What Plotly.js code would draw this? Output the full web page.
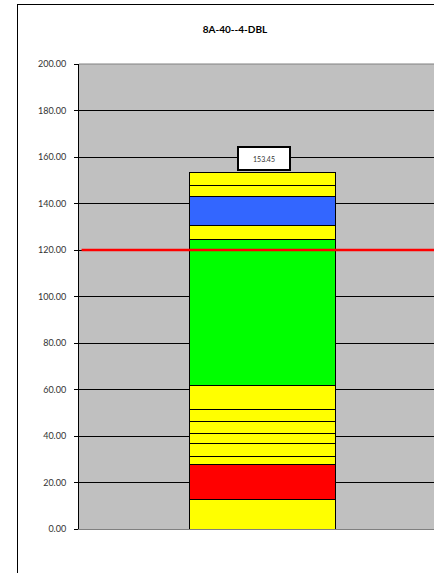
<!DOCTYPE html>
<html>
<head>
<meta charset="utf-8">
<script src="https://cdn.plot.ly/plotly-3.0.1.min.js"></script>
<style>
html,body{margin:0;padding:0;overflow:hidden;background:#fff;}
#frame{position:absolute;left:17px;top:4px;width:600px;height:700px;border-left:1px solid #000;border-top:1px solid #000;}
#chart{position:absolute;left:0;top:0;width:480px;height:573px;}
</style>
</head>
<body>
<div id="frame"></div>
<div id="chart"></div>
<script>
// Data
const category = ["8A-40--4-DBL"];
const segmentValues = [12.9, 14.8, 3.5, 5.4, 4.4, 5.2, 5.0, 10.5, 62.8, 6.0, 12.4, 4.7, 5.85];
const segmentColors = ["#ffff00","#ff0000","#ffff00","#ffff00","#ffff00","#ffff00","#ffff00","#ffff00","#00ff00","#ffff00","#3366ff","#ffff00","#ffff00"];
const totalLabel = 153.45;
const limitValue = 120;
const yTicks = [0, 20, 40, 60, 80, 100, 120, 140, 160, 180, 200];

const traces = segmentValues.map((v, i) => ({
  type: "bar",
  x: category,
  y: [v],
  marker: {color: segmentColors[i], line: {color: "#000", width: 1}},
  hoverinfo: "skip",
  showlegend: false
}));

const layout = {
  width: 480, height: 573,
  margin: {l: 79, r: 34, t: 64, b: 44, pad: 0},
  paper_bgcolor: "rgba(0,0,0,0)",
  plot_bgcolor: "#c0c0c0",
  barmode: "stack",
  bargap: 0.6,
  font: {family: "Lato, 'Open Sans', sans-serif", color: "#333"},
  title: {
    text: "<b>8A-40--4-DBL</b>",
    font: {size: 10, color: "#000", family: "Lato, 'Open Sans', sans-serif"},
    x: 235/480, xref: "container", xanchor: "center",
    y: 1 - 29/573, yref: "container", yanchor: "middle"
  },
  xaxis: {
    showticklabels: false, ticks: "", showgrid: false,
    showline: true, linecolor: "#808080", linewidth: 1,
    zeroline: false, fixedrange: true
  },
  yaxis: {
    range: [0, 200], tickvals: yTicks, tickformat: ".2f",
    ticks: "outside", ticklen: 4, tickcolor: "#000", tickwidth: 1,
    ticklabelstandoff: 6,
    showline: true, linecolor: "#000", linewidth: 1,
    showgrid: true, gridcolor: "#000", gridwidth: 1,
    zeroline: false, tickfont: {size: 9, color: "#333"},
    fixedrange: true
  },
  shapes: [
    {type: "line", xref: "paper", yref: "paper", x0: 0, x1: 1, y0: 1, y1: 1, line: {color: "#808080", width: 1}},
    {type: "line", xref: "paper", yref: "y", x0: 0.007, x1: 1, y0: limitValue, y1: limitValue, line: {color: "#ff0000", width: 2.5}, layer: "above"}
  ],
  annotations: [{
    x: category[0], y: totalLabel, xref: "x", yref: "y",
    text: totalLabel.toFixed(2), showarrow: false,
    yanchor: "bottom", yshift: 1, xshift: 1,
    font: {size: 7, color: "#333"},
    bgcolor: "#fff", bordercolor: "#000", borderwidth: 2,
    borderpad: 1, width: 48, height: 19
  }]
};

Plotly.newPlot("chart", traces, layout, {staticPlot: true, displayModeBar: false});
</script>
</body>
</html>
